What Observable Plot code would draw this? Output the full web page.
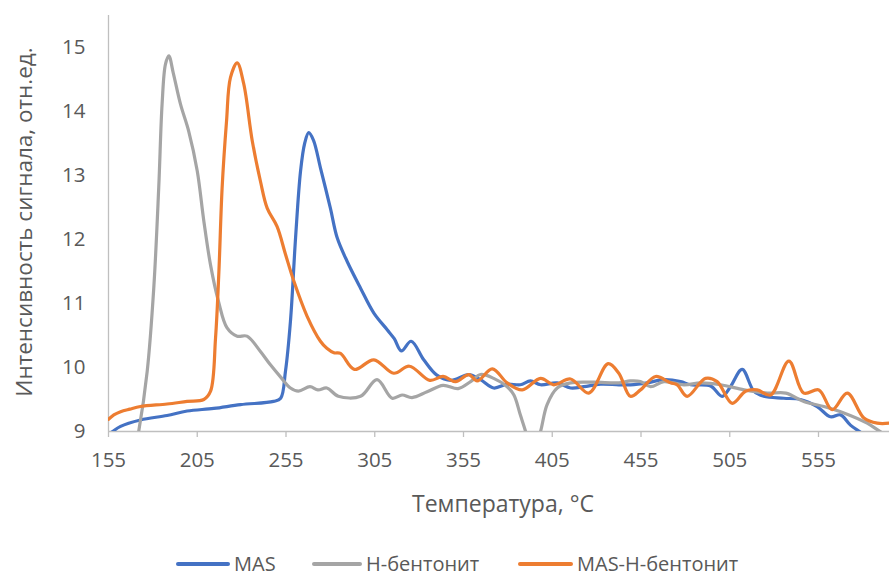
<!DOCTYPE html>
<html>
<head>
<meta charset="utf-8">
<script src="https://cdn.jsdelivr.net/npm/d3@7"></script>
<script src="https://cdn.jsdelivr.net/npm/@observablehq/plot@0.6"></script>
<style>
  html, body { margin: 0; padding: 0; background: #fff; }
  #wrap { position: relative; width: 889px; height: 579px; font-family: "Open Sans", sans-serif; color: #595959; overflow: hidden; }
  #wrap svg { position: absolute; left: 0; top: 0; }
  .xtitle { position: absolute; left: 503px; top: 503px; transform: translate(-50%, -50%); font-size: 23px; line-height: 30px; white-space: nowrap; }
  .ytitle { position: absolute; left: 24px; top: 222px; transform: translate(-50%, -50%) rotate(-90deg); font-size: 22.5px; line-height: 30px; white-space: nowrap; }
  .leg { position: absolute; top: 550px; height: 28px; line-height: 28px; display: flex; align-items: center; font-size: 20px; white-space: nowrap; }
  .sw { height: 4px; border-radius: 2px; margin-right: 4px; }
</style>
</head>
<body>
<div id="wrap"></div>
<script>
// ---- data ----
const seriesNames = ["MAS", "Н-бентонит", "MAS-Н-бентонит"];
const seriesColors = ["#4472C4", "#A5A5A5", "#ED7D31"];

const masT = [155, 161.8, 173, 188, 199.3, 214.3, 229.4, 248, 252, 254.7, 257.5, 260.4, 263.2, 265.5, 267.8, 270.5, 274.4, 280, 283.8, 289.4, 297, 304.5, 312, 316, 320, 325.5, 332.6, 340, 348, 358, 364.6, 372, 379.6, 387, 392.7, 398.4, 407.8, 415.3, 422.8, 432.2, 442.5, 449, 458.5, 467.9, 477.3, 482.9, 494.2, 500.7, 505.4, 512, 518.6, 524.2, 535.4, 544.8, 554.2, 561.7, 567.4, 573, 579.6, 585, 595];
const masV = [8.95, 9.08, 9.18, 9.25, 9.32, 9.36, 9.42, 9.47, 9.52, 9.94, 10.72, 12.03, 13.07, 13.5, 13.67, 13.55, 13.12, 12.49, 12.03, 11.66, 11.24, 10.85, 10.59, 10.45, 10.26, 10.41, 10.12, 9.88, 9.8, 9.89, 9.81, 9.68, 9.74, 9.73, 9.79, 9.73, 9.76, 9.68, 9.7, 9.74, 9.73, 9.73, 9.76, 9.81, 9.78, 9.73, 9.71, 9.55, 9.7, 9.97, 9.63, 9.55, 9.52, 9.5, 9.39, 9.23, 9.26, 9.1, 8.97, 8.85, 8.75];

const hbT = [166, 172, 176.8, 180.5, 183.3, 185.2, 187.1, 189, 191.5, 195.6, 200.2, 205, 208.7, 212.5, 217, 221.8, 227.5, 233, 240.6, 246, 252, 257.5, 262, 268.5, 273, 278, 284.5, 297, 306.3, 314.8, 320.4, 326, 334.5, 343.5, 352, 359, 364.6, 372, 379.6, 383.4, 387, 390, 394, 398.4, 402.1, 407.8, 415.3, 428.4, 442.5, 449, 454.7, 460.4, 467.9, 479.2, 488.6, 499.9, 513.1, 526.3, 536.6, 546.7, 558, 569.3, 582.4, 588.1, 595];
const hbV = [8.2, 9.0, 9.94, 11.24, 12.81, 14.12, 14.74, 14.87, 14.6, 14.11, 13.69, 13.07, 12.29, 11.6, 11.03, 10.62, 10.49, 10.49, 10.25, 10.05, 9.85, 9.68, 9.63, 9.7, 9.65, 9.68, 9.55, 9.55, 9.81, 9.52, 9.57, 9.53, 9.62, 9.72, 9.67, 9.78, 9.89, 9.83, 9.7, 9.57, 9.26, 9.0, 8.6, 9.0, 9.42, 9.68, 9.76, 9.77, 9.76, 9.79, 9.78, 9.7, 9.78, 9.73, 9.76, 9.73, 9.65, 9.6, 9.6, 9.47, 9.39, 9.29, 9.13, 9.03, 8.9];

const mhbT = [155, 158, 161.8, 167, 173, 188, 199.3, 208.7, 212.5, 215.3, 217.2, 219, 221.5, 223.7, 227.5, 231.2, 236, 240.6, 244.4, 250, 254.7, 259.4, 266.9, 274.4, 278, 282, 285.7, 293.5, 304.5, 315.7, 324.5, 336, 343.5, 350.5, 358, 362.7, 371.2, 379.6, 388.1, 398.4, 405.9, 415.3, 425.6, 436.5, 442.5, 449, 454.7, 463.2, 471.6, 475.4, 481, 491.3, 497.9, 506.4, 513.9, 520.4, 528, 538.3, 546.7, 555.2, 562.7, 571.2, 580.6, 588.1, 595];
const mhbV = [9.19, 9.26, 9.31, 9.35, 9.39, 9.43, 9.47, 9.5, 9.63, 10.46, 11.5, 12.8, 13.85, 14.53, 14.76, 14.43, 13.54, 12.91, 12.49, 12.2, 11.77, 11.35, 10.8, 10.41, 10.3, 10.23, 10.22, 9.97, 10.12, 9.91, 10.02, 9.8, 9.86, 9.78, 9.89, 9.79, 9.98, 9.76, 9.65, 9.83, 9.73, 9.82, 9.6, 10.06, 9.91, 9.55, 9.65, 9.86, 9.76, 9.73, 9.55, 9.83, 9.78, 9.44, 9.63, 9.65, 9.57, 10.1, 9.6, 9.65, 9.34, 9.6, 9.21, 9.13, 9.13];

const xTicks = [155, 205, 255, 305, 355, 405, 455, 505, 555];
const yTicks = [9, 10, 11, 12, 13, 14, 15];
const xDomain = [155, 595];
const yDomain = [9, 15.5];
const xTitle = "Температура, °С";
const yTitle = "Интенсивность сигнала, отн.ед.";

// ---- build rows ----
const seriesT = [masT, hbT, mhbT];
const seriesV = [masV, hbV, mhbV];
const rows = [];
seriesNames.forEach((name, i) => {
  seriesT[i].forEach((t, j) => rows.push({series: name, t, v: seriesV[i][j]}));
});

const axisColor = "#BFBFBF";
const textColor = "#595959";

const chart = Plot.plot({
  width: 889,
  height: 540,
  marginLeft: 108,
  marginRight: 0,
  marginTop: 15,
  marginBottom: 109,
  style: {fontFamily: "'Open Sans', sans-serif", fontSize: "20px", color: textColor, background: "white", overflow: "visible"},
  x: {domain: xDomain},
  y: {domain: yDomain},
  color: {domain: seriesNames, range: seriesColors},
  marks: [
    Plot.ruleX([xDomain[0]], {y1: yDomain[0], y2: yDomain[1], stroke: axisColor, strokeWidth: 1.3}),
    Plot.ruleY([yDomain[0]], {stroke: axisColor, strokeWidth: 1.3}),
    Plot.axisX({ticks: xTicks, tickSize: 6, tickPadding: 15, stroke: axisColor, strokeWidth: 1.3, fill: textColor, fontSize: 20.5, label: null, tickFormat: d => String(d)}),
    Plot.axisY({ticks: yTicks, tickSize: 0, tickPadding: 23, fill: textColor, fontSize: 20.5, label: null, tickFormat: d => String(d)}),
    Plot.line(rows, {x: "t", y: "v", z: "series", stroke: "series", curve: "catmull-rom", strokeWidth: 3.2, strokeLinejoin: "round", strokeLinecap: "round", clip: true})
  ]
});

const wrap = document.getElementById("wrap");
wrap.appendChild(chart);

const xt = document.createElement("div");
xt.className = "xtitle";
xt.textContent = xTitle;
wrap.appendChild(xt);

const yt = document.createElement("div");
yt.className = "ytitle";
yt.textContent = yTitle;
wrap.appendChild(yt);

const legLeft = [176, 312, 518];
const swWidth = [54, 50, 55];
seriesNames.forEach((name, i) => {
  const item = document.createElement("div");
  item.className = "leg";
  item.style.left = legLeft[i] + "px";
  const sw = document.createElement("span");
  sw.className = "sw";
  sw.style.width = swWidth[i] + "px";
  sw.style.background = seriesColors[i];
  const tx = document.createElement("span");
  tx.textContent = name;
  item.appendChild(sw);
  item.appendChild(tx);
  wrap.appendChild(item);
});
</script>
</body>
</html>
